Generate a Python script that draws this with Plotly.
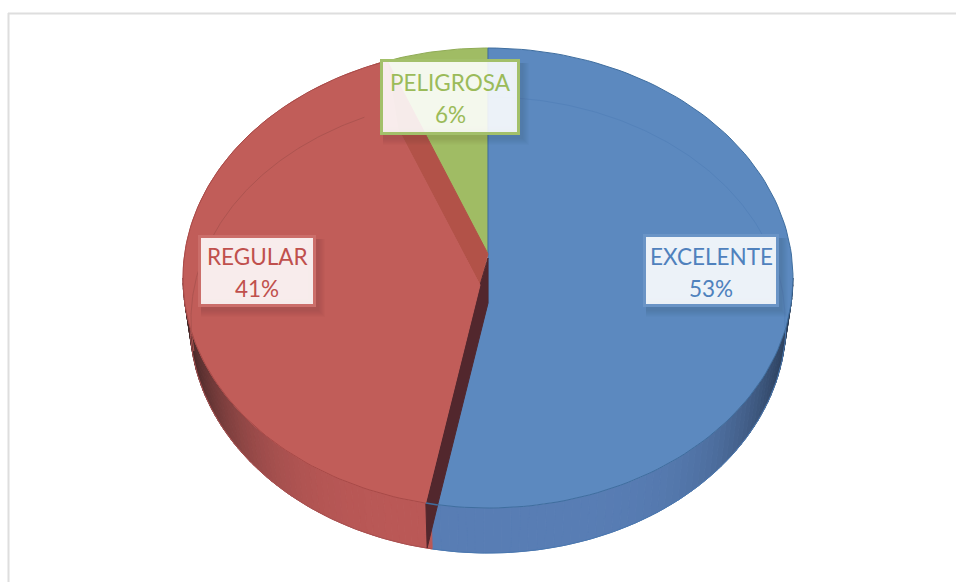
import math
import plotly.graph_objects as go

categories = ["EXCELENTE", "REGULAR", "PELIGROSA"]
values = [53, 41, 6]

face_colors = ["#5C89BF", "#C15D59", "#A0BC64"]
edge_colors = ["#3F6E9F", "#A84A48", "#8FAB55"]
text_colors = ["#4F81BD", "#C0504D", "#9BBB59"]
border_colors = ["#6A94C6", "#CB6E6A", "#A3C06A"]
side_front = [(88, 125, 180), (186, 88, 86)]
side_dark = [(40, 58, 84), (66, 38, 38)]

CX = 488
TOP = (278, 305, 230)     # upper face ellipse: centre y, rx, ry
BOT = (323, 298, 230)     # lower rim ellipse
BEV = (320, 297, 223)     # bevel line ellipse


def pt(theta, e):
    r = math.radians(theta)
    return CX + e[1] * math.sin(r), e[0] - e[2] * math.cos(r)


def arc(a, b, e, n=120):
    return [pt(a + (b - a) * i / n, e) for i in range(n + 1)]


def poly(points, fill, line=None, name=None, width=1):
    xs = [p[0] for p in points] + [points[0][0]]
    ys = [p[1] for p in points] + [points[0][1]]
    return go.Scatter(
        x=xs, y=ys, mode="lines", fill="toself", fillcolor=fill, name=name,
        line=dict(color=line or fill, width=width), hoverinfo="name" if name else "skip",
        showlegend=False,
    )


def path(points, color, width=1):
    return go.Scatter(
        x=[p[0] for p in points], y=[p[1] for p in points], mode="lines",
        line=dict(color=color, width=width), hoverinfo="skip", showlegend=False,
    )


total = sum(values)
t1 = 360 * values[0] / total
t2 = t1 + 360 * values[1] / total

fig = go.Figure()


def side(a, b, idx, steps=60):
    for i in range(steps):
        u = a + (b - a) * i / steps
        v = a + (b - a) * (i + 1) / steps
        m = (u + v) / 2
        k = abs(math.sin(math.radians(m))) ** 5
        c = [round(side_front[idx][j] + (side_dark[idx][j] - side_front[idx][j]) * k) for j in range(3)]
        col = f"rgb({c[0]},{c[1]},{c[2]})"
        fig.add_trace(poly([pt(u, TOP), pt(v, TOP), pt(v, BOT), pt(u, BOT)], col))


side(90, t1, 0)
side(t1, 270, 1)
fig.add_trace(path(arc(90, t1, BOT), "#4A78B0"))
fig.add_trace(path(arc(t1, 270, BOT), "#A85050"))

# green slice
centre_green = (CX, 253)
fig.add_trace(poly([centre_green] + arc(t2, 360, TOP, 30), face_colors[2], edge_colors[2], categories[2]))

# blue slice
centre_blue = (CX, 303)
fig.add_trace(poly([centre_blue] + arc(0, t1, TOP), face_colors[0], edge_colors[0], categories[0]))
fig.add_trace(path(arc(0, 92, BEV), "#5482BA"))

# cut faces
p1 = pt(t1, TOP)
p2 = pt(t2, TOP)
q1 = pt(t1, BOT)
centre_red = (480, 285)
rim_red = pt(t2 + 2.3, TOP)
band_mid = (centre_red[0] + 0.72 * (p2[0] - 10 - centre_red[0]),
            centre_red[1] + 0.72 * (p2[1] + 3 - centre_red[1]))
fig.add_trace(poly([(CX, 254), rim_red, band_mid, centre_red], "#B25248"))
fig.add_trace(poly([(CX, 258), centre_blue, (p1[0] + 7, p1[1]), (q1[0] - 5, q1[1] - 1),
                    (p1[0] - 5, p1[1] - 1), centre_red], "#52272D"))

# red slice
red_rim = arc(t1 + 1, t2 + 2.3, TOP)
fig.add_trace(poly([centre_red] + red_rim + [band_mid], face_colors[1], None, categories[1]))
fig.add_trace(path(red_rim, edge_colors[1]))
fig.add_trace(path(arc(262, t2 - 3, BEV), "#AD5450"))
fig.add_trace(path([(p1[0] - 5, p1[1] - 1), (p1[0] + 7, p1[1] + 1)], "#3F6E9F", 1.5))

# frame
shapes = [
    dict(type="line", x0=8.5, x1=8.5, y0=13, y1=582, line=dict(color="#DEDEDE", width=2), layer="below"),
    dict(type="line", x0=8, x1=956, y0=13.5, y1=13.5, line=dict(color="#DEDEDE", width=2), layer="below"),
]

# label boxes: left, right, top, bottom, y of first line, y of second line
boxes = [(643, 779, 234, 307, 256, 288), (198, 316, 235, 307, 256, 288), (380, 520, 59, 135, 82, 114)]
annotations = []
for name, val, col, bcol, (x0, x1, y0, y1, ya, yb) in zip(categories, values, text_colors, border_colors, boxes):
    for grow in range(1, 8):
        shapes.append(dict(type="rect", x0=x1 - grow - 2, x1=x1 + grow + 2,
                           y0=y0 + 4, y1=y1 + grow + 3,
                           fillcolor="rgba(0,0,0,0.012)", line=dict(width=0), layer="above"))
        shapes.append(dict(type="rect", x0=x0 + 3, x1=x1 - grow - 2,
                           y0=y1 - grow - 2, y1=y1 + grow + 3,
                           fillcolor="rgba(0,0,0,0.012)", line=dict(width=0), layer="above"))
    shapes.append(dict(type="rect", x0=x0 + 2, x1=x1 - 2, y0=y0 + 2, y1=y1 - 2,
                       fillcolor="white", opacity=0.885, line=dict(width=0), layer="above"))
    shapes.append(dict(type="rect", x0=x0 + 1.5, x1=x1 - 1.5, y0=y0 + 1.5, y1=y1 - 1.5,
                       fillcolor="rgba(0,0,0,0)", line=dict(color=bcol, width=3), layer="above"))
    for txt, yy in ((name, ya), (f"{val}%", yb)):
        annotations.append(dict(
            x=(x0 + x1) / 2, y=yy, xref="x", yref="y", showarrow=False, text=txt,
            xanchor="center", yanchor="middle",
            font=dict(family="Lato, Carlito, sans-serif", size=22.5, color=col),
        ))

fig.update_layout(
    width=956, height=582, margin=dict(l=0, r=0, t=0, b=0),
    paper_bgcolor="white", plot_bgcolor="white", showlegend=False,
    xaxis=dict(range=[0, 956], visible=False, fixedrange=True),
    yaxis=dict(range=[582, 0], visible=False, fixedrange=True),
    shapes=shapes, annotations=annotations,
)
fig.write_html("out.html", config={"displayModeBar": False},
               post_script="document.body.style.margin='0';document.body.style.overflow='hidden';")
